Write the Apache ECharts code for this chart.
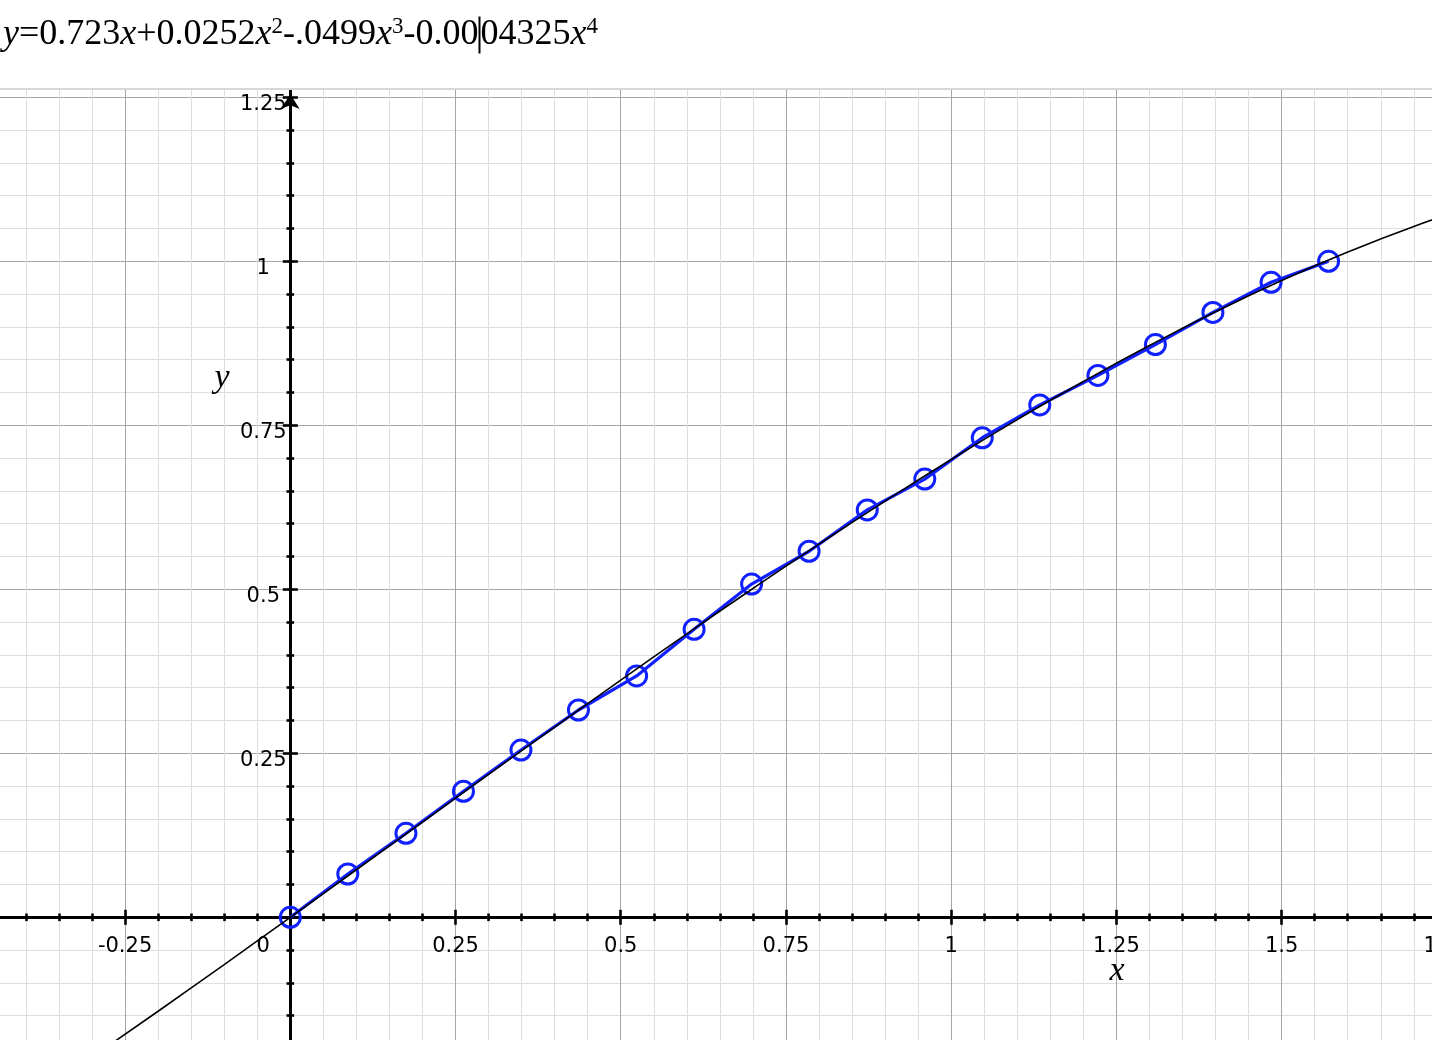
<!DOCTYPE html>
<html><head><meta charset="utf-8">
<script src="https://cdn.jsdelivr.net/npm/echarts@6/dist/echarts.min.js"></script>
<style>html,body{margin:0;padding:0;background:#fff}#c{width:1432px;height:1040px}</style>
</head><body><div id="c"></div>
<script>
// ---- data ----
const pointX = [0, 0.087, 0.175, 0.262, 0.349, 0.436, 0.524, 0.611, 0.698, 0.785, 0.873, 0.960, 1.047, 1.134, 1.222, 1.309, 1.396, 1.484, 1.571];
const pointY = [0, 0.066, 0.128, 0.192, 0.255, 0.316, 0.368, 0.439, 0.508, 0.558, 0.621, 0.668, 0.731, 0.781, 0.826, 0.873, 0.922, 0.968, 1.0];
const curveX = [-0.3, -0.2, -0.1, 0, 0.1, 0.2, 0.3, 0.4, 0.5, 0.6, 0.7, 0.8, 0.9, 1.0, 1.1, 1.2, 1.3, 1.4, 1.5, 1.6, 1.7, 1.8];
const curveY = [-0.2133, -0.1432, -0.0720, 0, 0.0725, 0.1452, 0.2178, 0.2900, 0.3615, 0.4320, 0.5012, 0.5688, 0.6345, 0.6979, 0.7587, 0.8168, 0.8716, 0.9230, 0.9706, 1.0141, 1.0532, 1.0875];
const majorStep = 0.25;
const minorSplits = 5;
const headerRich = '{i|y}{n|=0.723}{i|x}{n|+0.0252}{i|x}{s|2}{n|-.0499}{i|x}{s|3}{n|-0.00}{c|}{n|04325}{i|x}{s|4}';

// ---- layout ----
const W = 1432, H = 1040;
const x0px = 290.3, pxPerX = 660.9;
const y0px = 917.3, pxPerY = 656;
const plotTop = 90;
const yLabelDrop = 7;
const xMinG = -0.5, xMaxG = 1.75, yMinG = -0.25, yMaxG = 1.5;
const gLeft = x0px + xMinG * pxPerX, gWidth = (xMaxG - xMinG) * pxPerX;
const gTop = y0px - yMaxG * pxPerY, gHeight = (yMaxG - yMinG) * pxPerY;
const noBounds = { outerBoundsMode: 'none', containLabel: false };
const grids = [
  Object.assign({ left: gLeft, width: gWidth, top: gTop, height: gHeight }, noBounds),   // 0: grid lines + ticks
  Object.assign({ left: 0, top: plotTop, width: W, height: H - plotTop }, noBounds),     // 1: data viewport
  Object.assign({ left: gLeft, width: gWidth, top: 0, height: y0px }, noBounds),         // 2: x labels (bottom edge = x axis)
  Object.assign({ left: x0px, width: 100, top: gTop + yLabelDrop, height: gHeight }, noBounds) // 3: y labels
];
const vxMin = -x0px / pxPerX, vxMax = (W - x0px) / pxPerX;
const vyMin = (y0px - H) / pxPerY, vyMax = (y0px - plotTop) / pxPerY;

const FONT = 'DejaVu Sans';
const LABEL_SIZE = 21;
const isMajor = v => Math.abs(v / majorStep - Math.round(v / majorStep)) < 1e-6;
const fmt = v => String(+(+v).toFixed(2));

const majorLine = { color: '#a6a6a6', width: 1 };
const minorLine = { color: '#dedede', width: 1 };
const tickStyle = { color: '#000', width: 2.6 };

function gridAxis(min, max) {
  return {
    type: 'value', gridIndex: 0, min, max, interval: majorStep, z: 0,
    axisLine: { show: false }, axisTick: { show: false }, axisLabel: { show: false },
    minorTick: { show: false, splitNumber: minorSplits },
    splitLine: { show: true, lineStyle: majorLine },
    minorSplitLine: { show: true, lineStyle: minorLine }
  };
}
function tickAxis(min, max, pos, inside) {
  return {
    type: 'value', gridIndex: 0, min, max, interval: majorStep, position: pos, z: 3,
    axisLine: { show: pos === 'bottom' && !inside, onZero: true, onZeroAxisIndex: 0, lineStyle: { color: '#000', width: 3 } },
    axisTick: { show: true, inside, length: 7.5, lineStyle: tickStyle },
    minorTick: { show: true, splitNumber: minorSplits, length: 3.8, lineStyle: tickStyle },
    splitLine: { show: false }, minorSplitLine: { show: false },
    axisLabel: { show: false }
  };
}
function hiddenAxis(gridIndex) {
  return { type: 'value', gridIndex, min: 0, max: 1, show: false };
}
const labelAxisBase = (gridIndex, min, max, pos) => ({
  type: 'value', gridIndex, min, max, interval: majorStep, position: pos, z: 3,
  axisLine: { show: false, onZero: false }, axisTick: { show: false },
  splitLine: { show: false }, minorTick: { show: false }, minorSplitLine: { show: false }
});

const xLabelAxis = Object.assign(labelAxisBase(2, xMinG, xMaxG, 'bottom'), {
  axisLabel: {
    show: true, margin: 29, verticalAlign: 'middle', align: 'center', hideOverlap: false,
    showMinLabel: true, showMaxLabel: true,
    fontFamily: FONT, fontSize: LABEL_SIZE, color: '#000',
    formatter: v => (Math.abs(v) < 1e-9 ? '{z|0}' : (isMajor(v) ? fmt(v) : '')),
    rich: { z: { fontFamily: FONT, fontSize: LABEL_SIZE, color: '#000', padding: [0, 54, 0, 0] } }
  }
});
const yLabelAxis = Object.assign(labelAxisBase(3, yMinG, yMaxG, 'left'), {
  axisLabel: {
    show: true, margin: 27, align: 'center', verticalAlign: 'middle', hideOverlap: false,
    showMinLabel: true, showMaxLabel: true,
    fontFamily: FONT, fontSize: LABEL_SIZE, color: '#000',
    formatter: v => (Math.abs(v) < 1e-9 || !isMajor(v) ? '' : fmt(v))
  }
});

const option = {
  animation: false,
  backgroundColor: '#fff',
  grid: grids,
  xAxis: [
    gridAxis(xMinG, xMaxG),
    tickAxis(xMinG, xMaxG, 'bottom', false),
    tickAxis(xMinG, xMaxG, 'bottom', true),
    { type: 'value', gridIndex: 1, min: vxMin, max: vxMax, show: false },
    xLabelAxis,
    hiddenAxis(3)
  ],
  yAxis: [
    gridAxis(yMinG, yMaxG),
    tickAxis(yMinG, yMaxG, 'left', false),
    tickAxis(yMinG, yMaxG, 'left', true),
    {
      type: 'value', gridIndex: 1, min: vyMin, max: vyMax, z: 3,
      axisLine: { show: true, onZero: true, onZeroAxisIndex: 3, symbol: ['none', 'arrow'],
        symbolSize: [14, 15], symbolOffset: [0, -4], lineStyle: { color: '#000', width: 3 } },
      axisTick: { show: false }, axisLabel: { show: false }, splitLine: { show: false }
    },
    hiddenAxis(2),
    yLabelAxis
  ],
  series: [
    {
      type: 'line', xAxisIndex: 3, yAxisIndex: 3, z: 4,
      data: pointX.map((x, i) => [x, pointY[i]]),
      symbol: 'circle', symbolSize: 20,
      itemStyle: { color: 'rgba(0,0,0,0)', borderColor: '#1020ff', borderWidth: 3 },
      lineStyle: { color: '#1020ff', width: 3.2 },
      emphasis: { disabled: true }, silent: true
    },
    {
      type: 'line', xAxisIndex: 3, yAxisIndex: 3, z: 5,
      data: curveX.map((x, i) => [x, curveY[i]]),
      symbol: 'none', smooth: true,
      lineStyle: { color: '#000', width: 1.6 },
      emphasis: { disabled: true }, silent: true
    }
  ],
  graphic: [
    { type: 'rect', z: 50, shape: { x: 0, y: 0, width: W, height: 88 }, style: { fill: '#fff' }, silent: true },
    { type: 'rect', z: 51, shape: { x: 0, y: 88, width: W, height: 2 }, style: { fill: '#d8d8d8' }, silent: true },
    { type: 'text', z: 52, x: 3, y: 14, silent: true,
      style: {
        text: headerRich, verticalAlign: 'top', align: 'left',
        rich: {
          n: { fontFamily: 'Liberation Serif', fontSize: 36, lineHeight: 42, fill: '#000' },
          i: { fontFamily: 'Liberation Serif', fontStyle: 'italic', fontSize: 36, lineHeight: 42, fill: '#000' },
          s: { fontFamily: 'Liberation Serif', fontSize: 23, lineHeight: 42, padding: [0, 0, 16, 0], fill: '#000' },
          c: { width: 2, height: 37, backgroundColor: '#000', lineHeight: 42 }
        }
      }
    },
    { type: 'text', z: 52, x: 1117, y: 971.5, silent: true,
      style: { text: 'x', fontFamily: 'Liberation Serif', fontStyle: 'italic', fontSize: 34, fill: '#000', align: 'center', verticalAlign: 'middle' } },
    { type: 'text', z: 52, x: 222, y: 378.5, silent: true,
      style: { text: 'y', fontFamily: 'Liberation Serif', fontStyle: 'italic', fontSize: 34, fill: '#000', align: 'center', verticalAlign: 'middle' } }
  ]
};
const chart = echarts.init(document.getElementById('c'), null, { renderer: 'canvas' });
chart.setOption(option);
</script>
</body></html>
